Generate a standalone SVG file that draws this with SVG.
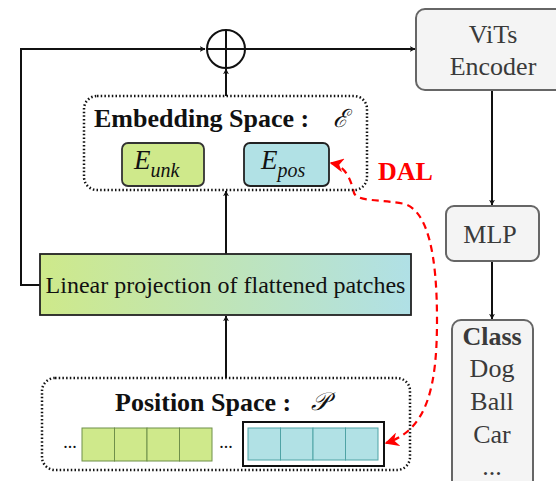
<svg xmlns="http://www.w3.org/2000/svg" width="556" height="481" viewBox="0 0 556 481">
<style>
.ln{fill:none;stroke:#111;stroke-width:2}
.dot{fill:none;stroke:#111;stroke-width:2.5;stroke-dasharray:1.5 2.2}
.gbox{fill:#f4f4f4;stroke:#666;stroke-width:2}
.t{fill:#111}
.tg{fill:#3a3a3a;font-size:26px;text-anchor:middle}
.b{font-weight:bold}
.i{font-style:italic}
.cg{fill:#cfe98b;stroke:#6f8f4a;stroke-width:1}
.cc{fill:#b1e1e5;stroke:#4fa3a5;stroke-width:1}
</style>
<defs>
<marker id="ah" viewBox="0 0 10 10" refX="9" refY="5" markerWidth="6" markerHeight="6" orient="auto-start-reverse" markerUnits="userSpaceOnUse">
<path d="M0,0 L10,5 L0,10 L3,5 Z" fill="#111"/>
</marker>
<marker id="ar" viewBox="0 0 10 10" refX="9" refY="5" markerWidth="14" markerHeight="14" orient="auto-start-reverse" markerUnits="userSpaceOnUse">
<path d="M0,0 L10,5 L0,10 L3,5 Z" fill="#f00"/>
</marker>
<linearGradient id="lg" x1="0" y1="0" x2="1" y2="0">
<stop offset="0" stop-color="#cee98a"/>
<stop offset="1" stop-color="#b0e0e6"/>
</linearGradient>
</defs>

<g id="connectors">
<path class="ln" d="M40,285 H21 V49 H205" marker-end="url(#ah)"/>
<path class="ln" d="M245,49 H415" marker-end="url(#ah)"/>
<path class="ln" d="M226,96 V69" marker-end="url(#ah)"/>
<path class="ln" d="M226,254 V191" marker-end="url(#ah)"/>
<path class="ln" d="M226,378 V316" marker-end="url(#ah)"/>
<path class="ln" d="M492,90 V205" marker-end="url(#ah)"/>
<path class="ln" d="M492,261 V319" marker-end="url(#ah)"/>
<path fill="none" stroke="#f00" stroke-width="2.2" stroke-dasharray="7 5" d="M331,163 C346,166 351,180 354,193 C358,202 380,199 405,204 C428,212 437,255 437,320 C437,385 428,430 386,443" marker-start="url(#ar)" marker-end="url(#ar)"/>
</g>

<g font-family="'Liberation Serif', 'Times New Roman', Times, serif">
<g id="oplus">
<circle cx="226" cy="49" r="19" fill="#fff" stroke="#111" stroke-width="2"/>
<path d="M207,49 H245 M226,30 V68" stroke="#111" stroke-width="2"/>
</g>

<g id="embedding-space">
<rect class="dot" x="84" y="96" width="283" height="94" rx="13"/>
<text class="t b" x="94" y="127" font-size="26">Embedding Space :</text>
<text x="333" y="127" font-size="25" font-family="'DejaVu Serif', serif" font-style="italic" fill="#111">ℰ</text>
</g>

<g id="e-unk">
<rect x="122" y="143" width="82" height="43" rx="6" fill="#cfe98b" stroke="#333" stroke-width="1.8"/>
<text class="t i" x="134" y="169" font-size="27">E<tspan font-size="20" dy="8">unk</tspan></text>
</g>

<g id="e-pos">
<rect x="244" y="143" width="85" height="43" rx="6" fill="#b1e1e5" stroke="#222" stroke-width="1.8"/>
<text class="t i" x="261" y="169" font-size="27">E<tspan font-size="20" dy="8">pos</tspan></text>
</g>

<g id="dal">
<text class="b" x="378" y="180" font-size="26" fill="#f00">DAL</text>
</g>

<g id="linear-projection">
<rect x="40" y="254" width="371" height="61" fill="url(#lg)" stroke="#222" stroke-width="1.8"/>
<text class="t" x="225.5" y="293" font-size="24" text-anchor="middle">Linear projection of flattened patches</text>
</g>

<g id="position-space">
<rect class="dot" x="42" y="378" width="368" height="92" rx="13"/>
<text class="t b" x="115" y="411" font-size="26">Position Space :</text>
<text x="311" y="410" font-size="25" font-family="'DejaVu Serif', serif" font-style="italic" fill="#111">𝒫</text>
<text class="t" x="70" y="448" font-size="18" text-anchor="middle">...</text>
<rect class="cg" x="82" y="428" width="32.5" height="33"/>
<rect class="cg" x="114.5" y="428" width="32.5" height="33"/>
<rect class="cg" x="147" y="428" width="32.5" height="33"/>
<rect class="cg" x="179.5" y="428" width="32.5" height="33"/>
<text class="t" x="226" y="448" font-size="18" text-anchor="middle">...</text>
<rect x="243" y="422" width="141" height="44" fill="#fff" stroke="#111" stroke-width="2"/>
<rect class="cc" x="248" y="428" width="32.5" height="32"/>
<rect class="cc" x="280.5" y="428" width="32.5" height="32"/>
<rect class="cc" x="313" y="428" width="32.5" height="32"/>
<rect class="cc" x="345.5" y="428" width="32.5" height="32"/>
</g>

<g id="vits-encoder">
<rect class="gbox" x="416" y="9" width="160" height="81" rx="9"/>
<text class="tg" x="493" y="43">ViTs</text>
<text class="tg" x="493" y="75">Encoder</text>
</g>

<g id="mlp">
<rect class="gbox" x="446" y="206" width="93" height="55" rx="8"/>
<text class="tg" x="490" y="243">MLP</text>
</g>

<g id="class">
<rect class="gbox" x="452" y="320" width="81" height="180" rx="9"/>
<text class="tg b" x="492" y="345">Class</text>
<text class="tg" x="492" y="377">Dog</text>
<text class="tg" x="492" y="410">Ball</text>
<text class="tg" x="492" y="443">Car</text>
<text class="tg" x="492" y="475">...</text>
</g>
</g>
</svg>
